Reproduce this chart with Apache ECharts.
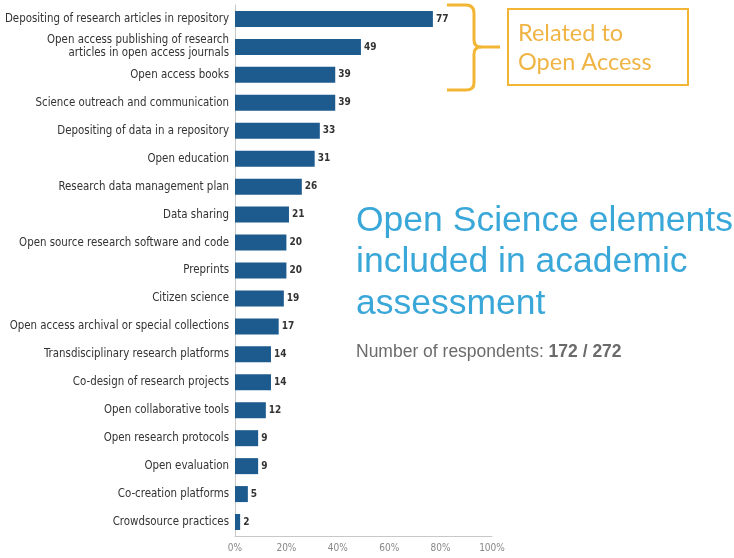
<!DOCTYPE html>
<html>
<head>
<meta charset="utf-8">
<script src="https://cdn.jsdelivr.net/npm/echarts@6/dist/echarts.min.js"></script>
<style>
  html, body { margin: 0; padding: 0; background: #ffffff; }
  #chart { width: 734px; height: 558px; }
</style>
</head>
<body>
<div id="chart"></div>
<script>
// Open Science elements, share of respondents (%)
const categories = [
  'Depositing of research articles in repository',
  'Open access publishing of research\narticles in open access journals',
  'Open access books',
  'Science outreach and communication',
  'Depositing of data in a repository',
  'Open education',
  'Research data management plan',
  'Data sharing',
  'Open source research software and code',
  'Preprints',
  'Citizen science',
  'Open access archival or special collections',
  'Transdisciplinary research platforms',
  'Co-design of research projects',
  'Open collaborative tools',
  'Open research protocols',
  'Open evaluation',
  'Co-creation platforms',
  'Crowdsource practices'
];
const values = [77, 49, 39, 39, 33, 31, 26, 21, 20, 20, 19, 17, 14, 14, 12, 9, 9, 5, 2];
const axisTicks = [0, 20, 40, 60, 80, 100];

const titleLines = ['Open Science elements', 'included in academic', 'assessment'];
const respondentsLabel = 'Number of respondents: ';
const respondentsValue = '172 / 272';
const noteLines = ['Related to', 'Open Access'];

const narrow = '"Liberation Sans Narrow", "DejaVu Sans Condensed", "Noto Sans", sans-serif';
const accent = '#f2b534';
const braceStyle = { fill: null, stroke: accent, lineWidth: 3 };

// curly brace built from straight segments and quadratic corners
function braceParts() {
  const line = (x1, y1, x2, y2) => ({ type: 'line', shape: { x1, y1, x2, y2 }, style: braceStyle });
  const curve = (x1, y1, cx, cy, x2, y2) => ({
    type: 'bezierCurve', shape: { x1, y1, x2, y2, cpx1: cx, cpy1: cy }, style: braceStyle
  });
  return [
    line(447, 5, 466, 5),
    curve(466, 5, 474, 5, 474, 13),
    line(474, 13, 474, 40),
    curve(474, 40, 474, 47, 481, 47),
    line(481, 47, 500, 47),
    curve(481, 47, 474, 47, 474, 54),
    line(474, 54, 474, 83),
    curve(474, 83, 474, 90, 466, 90),
    line(466, 90, 447, 90)
  ];
}

const chart = echarts.init(document.getElementById('chart'), null, { renderer: 'canvas' });

chart.setOption({
  backgroundColor: '#ffffff',
  animation: false,
  grid: { left: 235, top: 5, width: 257, height: 531 },
  xAxis: {
    type: 'value',
    min: axisTicks[0],
    max: axisTicks[axisTicks.length - 1],
    interval: axisTicks[1] - axisTicks[0],
    axisLine: { show: true, lineStyle: { color: '#c8c8c8', width: 1 } },
    axisTick: { show: false },
    splitLine: { show: false },
    axisLabel: {
      formatter: '{value}%',
      color: '#888',
      fontFamily: narrow,
      fontSize: 10,
      margin: 7
    }
  },
  yAxis: {
    type: 'category',
    data: categories,
    inverse: true,
    axisLine: { show: true, lineStyle: { color: '#c8c8c8', width: 1 } },
    axisTick: { show: false },
    axisLabel: {
      color: '#333',
      fontFamily: narrow,
      fontSize: 11.4,
      lineHeight: 13,
      margin: 6,
      align: 'right'
    }
  },
  series: [{
    type: 'bar',
    data: values,
    barWidth: 16,
    itemStyle: { color: '#1d5a8e' },
    label: {
      show: true,
      position: 'right',
      distance: 3,
      color: '#333',
      fontFamily: narrow,
      fontWeight: 'bold',
      fontSize: 10
    }
  }],
  graphic: braceParts().concat([
    {
      type: 'rect',
      shape: { x: 508, y: 9, width: 180, height: 76 },
      style: { fill: null, stroke: accent, lineWidth: 2 }
    },
    {
      type: 'text',
      x: 518, y: 19,
      style: {
        text: noteLines.join('\n'),
        fill: '#f0b445',
        font: '23.5px Lato, "Open Sans", sans-serif',
        lineHeight: 29
      }
    },
    {
      type: 'text',
      x: 356, y: 200,
      style: {
        text: titleLines.join('\n'),
        fill: '#3aa7d9',
        font: '35.5px "Liberation Sans", Arial, sans-serif',
        lineHeight: 41.5
      }
    },
    {
      type: 'text',
      x: 356, y: 343,
      style: {
        text: '{n|' + respondentsLabel + '}{b|' + respondentsValue + '}',
        rich: {
          n: { fill: '#6b6b6b', font: '17.5px "Liberation Sans", Arial, sans-serif' },
          b: { fill: '#6b6b6b', font: 'bold 17.5px "Liberation Sans", Arial, sans-serif' }
        }
      }
    }
  ])
});
</script>
</body>
</html>
